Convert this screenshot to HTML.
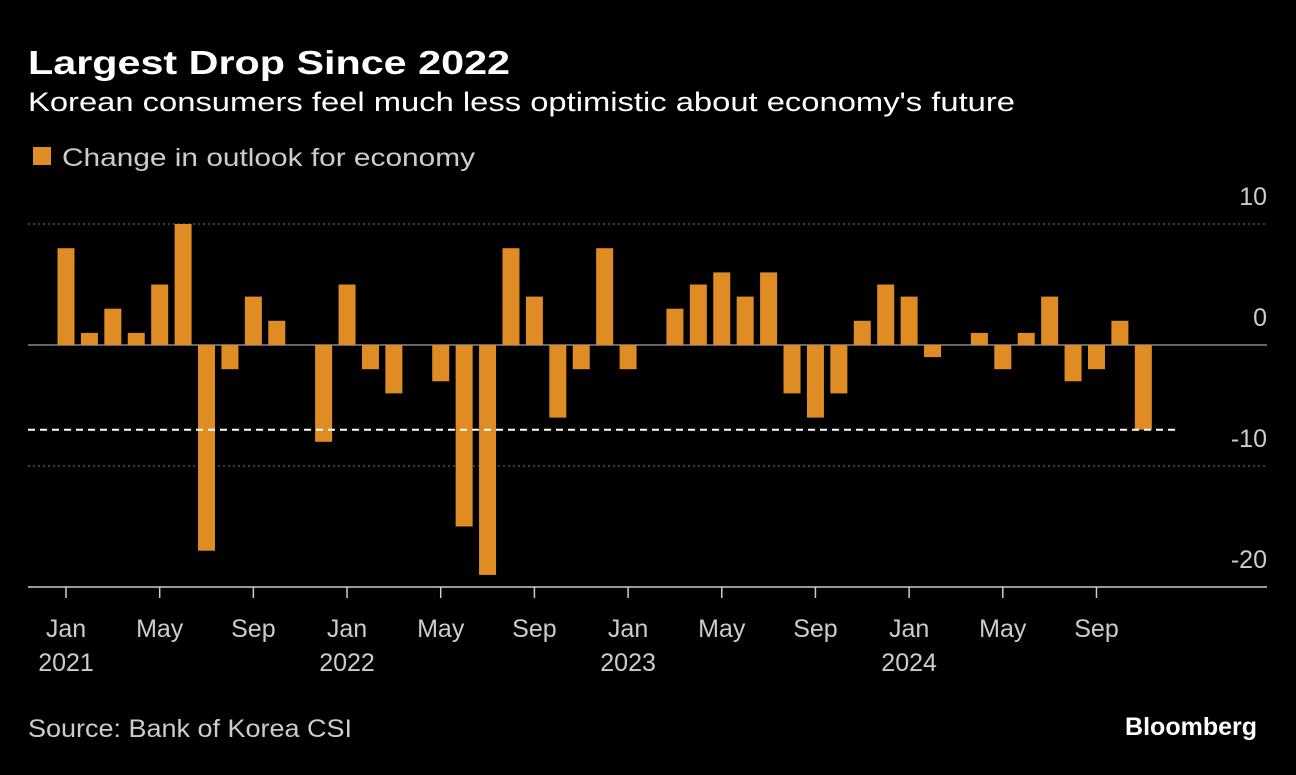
<!DOCTYPE html>
<html><head><meta charset="utf-8">
<style>
body{margin:0;background:#000;width:1296px;height:770px;overflow:hidden;font-family:"Liberation Sans",sans-serif;color:#fff}
</style></head>
<body>
<svg width="1296" height="770">
<text x="28" y="74" font-size="33" font-weight="bold" fill="#fff" textLength="482" lengthAdjust="spacingAndGlyphs">Largest Drop Since 2022</text>
<text x="28" y="111" font-size="27" fill="#fff" textLength="987" lengthAdjust="spacingAndGlyphs">Korean consumers feel much less optimistic about economy's future</text>
<rect x="33" y="147" width="18" height="18" fill="#e08c24"/>
<text x="62" y="166" font-size="25" fill="#ccc" textLength="413" lengthAdjust="spacingAndGlyphs">Change in outlook for economy</text>
<g id="plot"></g>
<text x="28" y="737" font-size="25" fill="#ccc" textLength="324" lengthAdjust="spacingAndGlyphs">Source: Bank of Korea CSI</text>
<text x="1257" y="735" font-size="25" font-weight="bold" fill="#fff" text-anchor="end">Bloomberg</text>
</svg>
<script>
const values=[8,1,3,1,5,10,-17,-2,4,2,0,-8, 5,-2,-4,0,-3,-15,-19,8,4,-6,-2,8, -2,0,3,5,6,4,6,-4,-6,-4,2,5, 4,-1,0,1,-2,1,4,-3,-2,2,-7];
const yTicks=[10,0,-10,-20];
const xTickLabels=["Jan","May","Sep"];
const years=[2021,2022,2023,2024];
const refValue=-7;
const NS="http://www.w3.org/2000/svg";
const g=document.getElementById('plot');
const x0=66,step=23.42,y0=345,k=12.1;
const X=i=>x0+i*step, Y=v=>y0-v*k;
function mk(t,a){const e=document.createElementNS(NS,t);for(const n in a)e.setAttribute(n,a[n]);g.appendChild(e);return e;}
yTicks.forEach(t=>{
 if(t===10||t===-10){const l=mk('line',{x1:28,x2:1267,y1:Y(t),y2:Y(t),stroke:'#777','stroke-dasharray':'2,3'});
 
 }
 const tx=mk('text',{x:1267,y:Y(t)-19,'font-size':25,fill:'#ccc','text-anchor':'end'});tx.textContent=t;
 
 
});
const zl=mk('line',{x1:28,x2:1267,y1:Y(0),y2:Y(0),stroke:'#888','stroke-width':1.5});


values.forEach((v,i)=>{
 const r=mk('rect',{x:X(i)-8.5,width:17,y:Math.min(Y(v),Y(0)),height:Math.abs(Y(v)-Y(0)),fill:'#e08c24'});
 
 
});
const dl=mk('line',{x1:28,x2:1175,y1:Y(refValue),y2:Y(refValue),stroke:'#fff','stroke-width':2,'stroke-dasharray':'7,5'});


const ax=mk('line',{x1:28,x2:1267,y1:587,y2:587,stroke:'#ccc','stroke-width':1.5});


years.forEach((yr,yi)=>{
 xTickLabels.forEach((m,mi)=>{
  const i=yi*12+mi*4;
  const t=mk('line',{x1:X(i),x2:X(i),y1:587,y2:598,stroke:'#ccc','stroke-width':1.5});
  
  
  const tx=mk('text',{x:X(i),y:637,'font-size':25,fill:'#ccc','text-anchor':'middle'});tx.textContent=m;
  
  
 });
 const yt=mk('text',{x:X(yi*12),y:671,'font-size':25,fill:'#ccc','text-anchor':'middle'});yt.textContent=yr;
 
 
});
</script>
</body></html>
